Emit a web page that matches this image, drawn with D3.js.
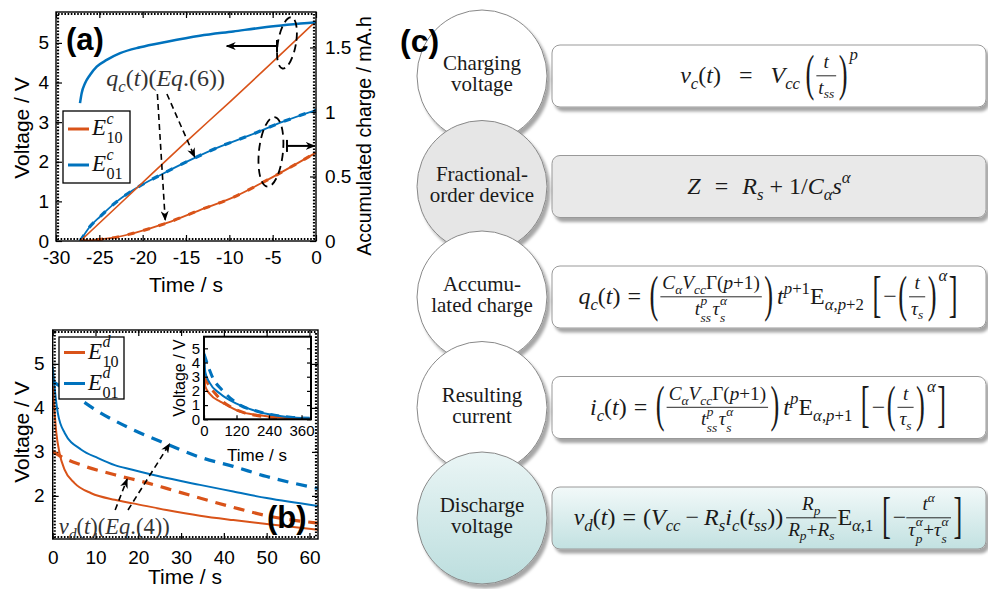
<!DOCTYPE html>
<html>
<head>
<meta charset="utf-8">
<script src="https://cdn.jsdelivr.net/npm/d3@7"></script>
<style>
  body { margin: 0; background: #fff; }
  svg { display: block; }
</style>
</head>
<body>
<svg id="fig" width="988" height="589"></svg>
<script>
const sans = "'Liberation Sans', Arial, sans-serif";
const serif = "'Liberation Serif', 'DejaVu Serif', serif";
const orange = "#D95319";
const blue = "#0072BD";

// ---- (a) charging: voltage (left axis, V) and accumulated charge (right axis, mA.h)
const tVc01 = [-27.23, -27.04, -26.65, -26.08, -25.3, -24.15, -22.6, -20.3, -17.2, -13.4, -9.54, -5.7, 0];
const vc01 = [3.48, 3.73, 3.98, 4.19, 4.40, 4.57, 4.74, 4.89, 5.03, 5.18, 5.29, 5.40, 5.52];
const tVc10 = [-27.2, -21.1, -14.9, -9.9, 0];
const vc10 = [0, 1.25, 2.52, 3.52, 5.55];
const tQ01 = [-27.2, -26.1, -24.9, -23, -21.1, -18, -14.9, -11.5, -7.6, -3.8, 0];
const q01 = [0, 0.11, 0.19, 0.305, 0.395, 0.51, 0.615, 0.72, 0.82, 0.925, 1.015];
const tQ10 = [-27.2, -24.9, -23, -21.1, -17.2, -13.4, -9.5, -5.7, 0];
const q10 = [0, 0.013, 0.03, 0.06, 0.14, 0.24, 0.34, 0.47, 0.685];
const xTicksA = [-30, -25, -20, -15, -10, -5, 0];
const yTicksA = [0, 1, 2, 3, 4, 5];
const qTicksA = [0, 0.5, 1, 1.5];

// ---- (b) discharge voltage, solid = measured, dashed = model
const tD01 = [0, 0.5, 1.2, 2.8, 6.7, 10.6, 14.5, 18.4, 24.6, 34.4, 42.2, 50, 62];
const vd01 = [4.94, 4.41, 3.88, 3.43, 3.05, 2.86, 2.70, 2.60, 2.45, 2.25, 2.10, 1.95, 1.77];
const tM01 = [0, 4.35, 10.6, 18.4, 26.6, 34.4, 42.2, 50, 62];
const vm01 = [4.60, 4.33, 3.92, 3.52, 3.18, 2.88, 2.67, 2.44, 2.17];
const tD10 = [0, 0.4, 0.85, 1.6, 2.8, 5.1, 9.0, 14.5, 18.8, 26.6, 34.4, 42.2, 50, 62];
const vd10 = [4.5, 3.95, 3.43, 2.97, 2.59, 2.29, 2.06, 1.91, 1.83, 1.68, 1.55, 1.45, 1.36, 1.23];
const tM10 = [0, 2, 6.7, 14.5, 22.3, 26.6, 34.4, 42.2, 50, 62];
const vm10 = [3.01, 2.89, 2.70, 2.48, 2.29, 2.17, 1.95, 1.74, 1.55, 1.38];
const xTicksB = [0, 10, 20, 30, 40, 50, 60];
const yTicksB = [2, 3, 4, 5];

// ---- (b) inset, full discharge
const tI01 = [0, 5, 20, 60, 120, 180, 240, 300, 360, 390];
const vI01 = [4.9, 3.3, 2.6, 1.8, 1.1, 0.65, 0.35, 0.18, 0.1, 0.08];
const tIm01 = [0, 20, 34, 60, 77, 133, 200, 256, 320, 390];
const vIm01 = [4.6, 3.5, 2.85, 2.2, 1.85, 1.0, 0.55, 0.3, 0.15, 0.08];
const tI10 = [0, 5, 22, 60, 71, 133, 200, 260, 330, 390];
const vI10 = [4.5, 2.3, 1.77, 1.25, 1.13, 0.54, 0.3, 0.15, 0.07, 0.04];
const tIm10 = [0, 22, 40, 62, 100, 150, 200, 260, 330, 390];
const vIm10 = [3.0, 2.3, 1.85, 1.38, 0.85, 0.45, 0.25, 0.12, 0.05, 0.03];
const xTicksI = [0, 120, 240, 360];
const yTicksI = [0, 1, 2, 3, 4, 5];

// ---- (c) model chain
const stageLabels = [["Charging", "voltage"], ["Fractional-", "order device"],
  ["Accumu-", "lated charge"], ["Resulting", "current"], ["Discharge", "voltage"]];

const pts = (ts, vs) => ts.map((t, i) => [t, vs[i]]);
const fmt = (d) => d3.format("~g")(d).replace("−", "-");

const svg = d3.select("#fig");
const defs = svg.append("defs");

defs.append("marker").attr("id", "ah")
  .attr("viewBox", "0 0 10 8").attr("refX", 9).attr("refY", 4)
  .attr("markerWidth", 10).attr("markerHeight", 8)
  .attr("markerUnits", "userSpaceOnUse").attr("orient", "auto")
  .append("path").attr("d", "M0,0 L10,4 L0,8 L3,4 z").attr("fill", "#000");

const sh = defs.append("filter").attr("id", "sh")
  .attr("x", "-20%").attr("y", "-20%").attr("width", "150%").attr("height", "150%");
sh.append("feDropShadow").attr("dx", 3).attr("dy", 4).attr("stdDeviation", 1.6)
  .attr("flood-color", "#000").attr("flood-opacity", 0.35);

const grad = (id, c0, c1) => {
  const g = defs.append("linearGradient").attr("id", id)
    .attr("x1", 0).attr("y1", 0).attr("x2", 0).attr("y2", 1);
  g.append("stop").attr("offset", "0%").attr("stop-color", c0);
  g.append("stop").attr("offset", "100%").attr("stop-color", c1);
};
grad("gCirc", "#eaf5f5", "#bcdede");
grad("gBox", "#f2f9f9", "#c2e1e1");

// ---------- small math typesetter (text runs, sub/sup, fractions, big delimiters)
const I = (s) => ({ s, i: true });
const R = (s) => ({ s });
const sb = (s, i = true) => ({ s, i, sub: true });
const sup = (s, i = true) => ({ s, i, sup: true });
const gap = (n) => ({ sp: n });

function math(g, items, x, y, fs) {
  items.forEach((it) => {
    if (it.sp != null) { x += it.sp; return; }
    if (it.frac) {
      const fz = fs * 0.8;
      const ng = g.append("g");
      const dg = g.append("g");
      const nw = math(ng, it.frac[0], 0, 0, fz);
      const dw = math(dg, it.frac[1], 0, 0, fz);
      const w = Math.max(nw, dw) + 4;
      const ax = y - fs * 0.3;
      ng.attr("transform", `translate(${x + (w - nw) / 2},${ax - fs * 0.31})`);
      dg.attr("transform", `translate(${x + (w - dw) / 2},${ax + fz * 0.93})`);
      g.append("line").attr("x1", x).attr("x2", x + w).attr("y1", ax).attr("y2", ax)
        .attr("stroke", "#111").attr("stroke-width", 0.9);
      x += w + 1;
      return;
    }
    if (it.big) {
      x += 1.5;
      const t = g.append("text").attr("y", fs * 0.27).attr("font-size", fs)
        .attr("font-weight", 300).text(it.big)
        .attr("transform", `translate(${x},${y - fs * 0.3}) scale(1.1,${it.h || 2.15})`);
      x += t.node().getComputedTextLength() * 1.1 + 2;
      return;
    }
    if (it.ss) {
      const e1 = math(g, it.ss[0], x + 0.5, y + fs * 0.36, fs * 0.7);
      const e2 = math(g, it.ss[1], x + 0.5, y - fs * 0.48, fs * 0.7);
      x = Math.max(e1, e2) + 0.5;
      return;
    }
    const small = it.sub || it.sup;
    const dy = it.dy != null ? it.dy * fs : it.sub ? fs * 0.25 : it.sup ? -fs * 0.42 : 0;
    const t = g.append("text").attr("x", x).attr("y", y + dy)
      .attr("font-size", small ? fs * 0.7 : fs)
      .attr("font-style", it.i ? "italic" : null).text(it.s);
    x += t.node().getComputedTextLength();
  });
  return x;
}

// ---------- shared plot helpers
const frame = (g, x0, x1, y0, y1, minor) => {
  if (minor) {
    g.append("rect").attr("x", x0 + 2).attr("y", y0 + 2)
      .attr("width", x1 - x0 - 4).attr("height", y1 - y0 - 4)
      .attr("fill", "none").attr("stroke", "#000").attr("stroke-width", 2.2)
      .attr("stroke-dasharray", "1.6,1.6");
  }
  g.append("rect").attr("x", x0).attr("y", y0)
    .attr("width", x1 - x0).attr("height", y1 - y0)
    .attr("fill", "none").attr("stroke", "#000").attr("stroke-width", minor ? 1.4 : 2);
};

const styleAxis = (sel, size) => {
  sel.select(".domain").remove();
  sel.selectAll(".tick line").attr("stroke", "#000").attr("stroke-width", 1.2);
  sel.selectAll(".tick text").attr("fill", "#000")
    .style("font-family", sans).style("font-size", size + "px");
};

const curve = (g, data, x, y, color, width, dash) => {
  g.append("path").datum(data)
    .attr("d", d3.line().x((d) => x(d[0])).y((d) => y(d[1])).curve(d3.curveMonotoneX))
    .attr("fill", "none").attr("stroke", color).attr("stroke-width", width)
    .attr("stroke-dasharray", dash || null).attr("stroke-linejoin", "round");
};

const dashArrow = (g, p0, p1) => {
  g.append("line").attr("x1", p0[0]).attr("y1", p0[1]).attr("x2", p1[0]).attr("y2", p1[1])
    .attr("stroke", "#000").attr("stroke-width", 1.6)
    .attr("stroke-dasharray", "6,4").attr("marker-end", "url(#ah)");
};

const legend = (g, x0, y0, w, h, rows, fs) => {
  g.append("rect").attr("x", x0).attr("y", y0).attr("width", w).attr("height", h)
    .attr("fill", "#fff").attr("stroke", "#000").attr("stroke-width", 1.3);
  rows.forEach((r, i) => {
    const yy = y0 + h * (i + 0.5) / rows.length;
    g.append("line").attr("x1", x0 + 5).attr("x2", x0 + 26).attr("y1", yy).attr("y2", yy)
      .attr("stroke", r.color).attr("stroke-width", 3);
    const tg = g.append("g").style("font-family", serif).attr("fill", "#111");
    math(tg, [I("E"), { ss: [[R(r.sub)], [I(r.sup)]] }], x0 + 29, yy + 6, fs);
  });
};

// ================= panel (a) =================
const ga = svg.append("g");
const xa = d3.scaleLinear().domain([-30, 0]).range([56, 316]);
const ya = d3.scaleLinear().domain([0, 5.78]).range([241, 12]);
const qa = d3.scaleLinear().domain([0, 1.775]).range([241, 12]);

ga.append("g").attr("transform", "translate(0,241)")
  .call(d3.axisBottom(xa).tickValues(xTicksA).tickFormat(fmt).tickSize(-6).tickPadding(10))
  .call((s) => styleAxis(s, 19));
ga.append("g").attr("transform", "translate(0,12)")
  .call(d3.axisTop(xa).tickValues(xTicksA).tickSize(-6).tickFormat(""))
  .call((s) => styleAxis(s, 19));
ga.append("g").attr("transform", "translate(56,0)")
  .call(d3.axisLeft(ya).tickValues(yTicksA).tickFormat(fmt).tickSize(-6).tickPadding(7))
  .call((s) => styleAxis(s, 19));
ga.append("g").attr("transform", "translate(316,0)")
  .call(d3.axisRight(qa).tickValues(qTicksA).tickFormat(fmt).tickSize(-6).tickPadding(9))
  .call((s) => styleAxis(s, 19));

defs.append("clipPath").attr("id", "clipA").append("rect")
  .attr("x", 56).attr("y", 12).attr("width", 260).attr("height", 229);
const ca = ga.append("g").attr("clip-path", "url(#clipA)");
curve(ca, pts(tQ10, q10), xa, qa, orange, 1.8);
curve(ca, pts(tQ10, q10), xa, qa, orange, 3, "7,9");
curve(ca, pts(tQ01, q01), xa, qa, blue, 1.8);
curve(ca, pts(tQ01, q01), xa, qa, blue, 3.2, "7,9");
curve(ca, pts(tVc10, vc10), xa, ya, orange, 1.6);
curve(ca, pts(tVc01, vc01), xa, ya, blue, 2.5);
frame(ga, 56, 316, 12, 241, true);

// annotations (a)
const annA = ga.append("g");
annA.append("ellipse").attr("cx", xa(-3.35)).attr("cy", ya(5.0)).attr("rx", 9).attr("ry", 26)
  .attr("transform", `rotate(10,${xa(-3.35)},${ya(5.0)})`)
  .attr("fill", "none").attr("stroke", "#000").attr("stroke-width", 1.8).attr("stroke-dasharray", "8,5");
annA.append("ellipse").attr("cx", xa(-5.2)).attr("cy", ya(2.25)).attr("rx", 12).attr("ry", 35)
  .attr("transform", `rotate(6,${xa(-5.2)},${ya(2.25)})`)
  .attr("fill", "none").attr("stroke", "#000").attr("stroke-width", 1.8).attr("stroke-dasharray", "8,5");
[[-4.5, -10.3, 4.92], [-3.35, -0.15, 2.4]].forEach(([a, b, v]) => {
  annA.append("line").attr("x1", xa(a)).attr("x2", xa(b)).attr("y1", ya(v)).attr("y2", ya(v))
    .attr("stroke", "#000").attr("stroke-width", 2).attr("marker-end", "url(#ah)");
  annA.append("line").attr("x1", xa(a)).attr("x2", xa(a)).attr("y1", ya(v) - 6).attr("y2", ya(v) + 6)
    .attr("stroke", "#000").attr("stroke-width", 2);
});
dashArrow(annA, [xa(-18.3), ya(3.71)], [xa(-17.4), ya(0.53)]);
dashArrow(annA, [xa(-17.2), ya(3.71)], [xa(-14.0), ya(2.12)]);
math(annA.append("g").style("font-family", serif).attr("fill", "#333"),
  [I("q"), sb("c"), R("("), I("t"), R(")"), R("("), I("E"), I("q"), R(".(6))")],
  xa(-24.2), ya(3.91), 24);
legend(ga, 63, 111, 67, 72, [{ color: orange, sub: "10", sup: "c" }, { color: blue, sub: "01", sup: "c" }], 23);
ga.append("text").attr("x", 66).attr("y", 50).text("(a)")
  .style("font-family", sans).style("font-weight", "bold").style("font-size", "31px");

ga.append("text").attr("x", 186).attr("y", 292).attr("text-anchor", "middle").text("Time / s")
  .style("font-family", sans).style("font-size", "21px");
ga.append("text").attr("transform", "translate(29,128) rotate(-90)").attr("text-anchor", "middle")
  .text("Voltage / V").style("font-family", sans).style("font-size", "21px");
ga.append("text").attr("transform", "translate(371,136) rotate(-90)").attr("text-anchor", "middle")
  .text("Accumulated charge / mA.h").style("font-family", sans).style("font-size", "19.5px");

// ================= panel (b) =================
const gb = svg.append("g");
const xb = d3.scaleLinear().domain([0, 62]).range([52.7, 318]);
const yb = d3.scaleLinear().domain([1.02, 5.77]).range([539, 330]);

gb.append("g").attr("transform", "translate(0,539)")
  .call(d3.axisBottom(xb).tickValues(xTicksB).tickFormat(fmt).tickSize(-6).tickPadding(12))
  .call((s) => styleAxis(s, 19));
gb.append("g").attr("transform", "translate(0,330)")
  .call(d3.axisTop(xb).tickValues(xTicksB).tickSize(-6).tickFormat(""))
  .call((s) => styleAxis(s, 19));
gb.append("g").attr("transform", "translate(52.7,0)")
  .call(d3.axisLeft(yb).tickValues(yTicksB).tickFormat(fmt).tickSize(-6).tickPadding(8))
  .call((s) => styleAxis(s, 19));
gb.append("g").attr("transform", "translate(318,0)")
  .call(d3.axisRight(yb).tickValues(yTicksB).tickSize(-6).tickFormat(""))
  .call((s) => styleAxis(s, 19));

defs.append("clipPath").attr("id", "clipB").append("rect")
  .attr("x", 52.7).attr("y", 330).attr("width", 265.3).attr("height", 209);
const cb = gb.append("g").attr("clip-path", "url(#clipB)");
curve(cb, pts(tM01, vm01), xb, yb, blue, 3.2, "11,8");
curve(cb, pts(tM10, vm10), xb, yb, orange, 3.2, "11,8");
curve(cb, pts(tD01, vd01), xb, yb, blue, 2);
curve(cb, pts(tD10, vd10), xb, yb, orange, 2);
frame(gb, 52.7, 318, 330, 539, true);

const annB = gb.append("g");
dashArrow(annB, [xb(14.6), yb(1.68)], [xb(17.4), yb(2.38)]);
dashArrow(annB, [xb(17.6), yb(1.68)], [xb(27.3), yb(3.18)]);
math(annB.append("g").style("font-family", serif).attr("fill", "#333"),
  [I("v"), sb("d"), R("("), I("t"), R(")"), R("("), I("E"), I("q"), R(".(4))")],
  xb(1.4), yb(1.13), 22.5);
legend(gb, 59, 337, 65, 62, [{ color: orange, sub: "10", sup: "d" }, { color: blue, sub: "01", sup: "d" }], 23);
gb.append("text").attr("x", 267).attr("y", 528).text("(b)")
  .style("font-family", sans).style("font-weight", "bold").style("font-size", "31px");

gb.append("text").attr("x", 185).attr("y", 584).attr("text-anchor", "middle").text("Time / s")
  .style("font-family", sans).style("font-size", "21px");
gb.append("text").attr("transform", "translate(29,432) rotate(-90)").attr("text-anchor", "middle")
  .text("Voltage / V").style("font-family", sans).style("font-size", "21px");

// inset
const xi = d3.scaleLinear().domain([0, 395]).range([204, 311]);
const yi = d3.scaleLinear().domain([0, 5.82]).range([419.3, 336.7]);
gb.append("rect").attr("x", 204).attr("y", 336.7).attr("width", 107).attr("height", 82.6).attr("fill", "#fff");
defs.append("clipPath").attr("id", "clipI").append("rect")
  .attr("x", 204).attr("y", 336.7).attr("width", 107).attr("height", 82.6);
const ci = gb.append("g").attr("clip-path", "url(#clipI)");
curve(ci, pts(tIm10, vIm10), xi, yi, orange, 3, "9,7");
curve(ci, pts(tIm01, vIm01), xi, yi, blue, 3, "9,7");
curve(ci, pts(tI10, vI10), xi, yi, orange, 2);
curve(ci, pts(tI01, vI01), xi, yi, blue, 2);
gb.append("g").attr("transform", "translate(0,419.3)")
  .call(d3.axisBottom(xi).tickValues(xTicksI).tickFormat(fmt).tickSize(-4).tickPadding(6))
  .call((s) => styleAxis(s, 15));
gb.append("g").attr("transform", "translate(204,0)")
  .call(d3.axisLeft(yi).tickValues(yTicksI).tickFormat(fmt).tickSize(-4).tickPadding(4))
  .call((s) => styleAxis(s, 15));
gb.append("g").attr("transform", "translate(311,0)")
  .call(d3.axisRight(yi).tickValues(yTicksI).tickSize(-4).tickFormat(""))
  .call((s) => styleAxis(s, 15));
frame(gb, 204, 311, 336.7, 419.3, false);
gb.append("text").attr("x", 257).attr("y", 461).attr("text-anchor", "middle").text("Time / s")
  .style("font-family", sans).style("font-size", "17px");
gb.append("text").attr("transform", "translate(185,378) rotate(-90)").attr("text-anchor", "middle")
  .text("Voltage / V").style("font-family", sans).style("font-size", "16px");

// ================= panel (c) =================
const gc = svg.append("g");
const rowY = d3.scalePoint().domain(d3.range(stageLabels.length)).range([76, 518]);
const circFill = ["#fff", "#e6e6e6", "#fff", "#fff", "url(#gCirc)"];
const boxFill = ["#fff", "#e9e9e9", "#fff", "#fff", "url(#gBox)"];

const fracC = { frac: [
  [I("C"), sb("α"), I("V"), sb("cc"), R("Γ("), I("p"), R("+1)")],
  [I("t"), { ss: [[I("ss")], [I("p")]] }, gap(1), I("τ"), { ss: [[I("s")], [I("α")]] }]] };
const tail = [gap(7), { big: "[" }, R("−"), { big: "(" }, { frac: [[I("t")], [I("τ"), sb("s")]] },
  { big: ")" }, { s: "α", i: true, sup: true, dy: -0.95 }, { big: "]" }];
const formulas = [
  [I("v"), sb("c"), R("("), I("t"), R(")"), gap(18), R("="), gap(18), I("V"), sb("cc"), gap(4),
    { big: "(" }, { frac: [[I("t")], [I("t"), sb("ss")]] }, { big: ")" }, { s: "p", i: true, sup: true, dy: -0.95 }],
  [I("Z"), gap(14), R("="), gap(14), I("R"), sb("s"), gap(6), R("+"), gap(6), R("1/"), I("C"), sb("α"),
    I("s"), sup("α")],
  [I("q"), sb("c"), R("("), I("t"), R(")"), gap(7), R("="), gap(7), { big: "(" }, fracC, { big: ")" }, gap(2),
    I("t"), sup("p"), sup("+1", false), R("E"), sb("α"), sb(",", false), sb("p"), sb("+2", false), ...tail],
  [I("i"), sb("c"), R("("), I("t"), R(")"), gap(7), R("="), gap(7), { big: "(" }, fracC, { big: ")" }, gap(2),
    I("t"), sup("p"), R("E"), sb("α"), sb(",", false), sb("p"), sb("+1", false), ...tail],
  [I("v"), sb("d"), R("("), I("t"), R(")"), gap(7), R("="), gap(7), R("("), I("V"), sb("cc"), gap(5), R("−"),
    gap(5), I("R"), sb("s"), I("i"), sb("c"), R("("), I("t"), sb("ss"), R("))"), gap(3),
    { frac: [[I("R"), sb("p")], [I("R"), sb("p"), R("+"), I("R"), sb("s")]] },
    R("E"), sb("α"), sb(",1", false), gap(7), { big: "[" }, R("−"),
    { frac: [[I("t"), sup("α")], [I("τ"), { ss: [[I("p")], [I("α")]] }, R("+"), I("τ"), { ss: [[I("s")], [I("α")]] }]] },
    { big: "]" }]
];

formulas.forEach((f, i) => {
  const cy = rowY(i);
  gc.append("rect").attr("x", 552).attr("y", cy - 31).attr("width", 434).attr("height", 62)
    .attr("rx", 8).attr("fill", boxFill[i]).attr("stroke", "#999").attr("stroke-width", 1)
    .attr("filter", "url(#sh)");
  const fg = gc.append("g").style("font-family", serif).attr("fill", "#1a1a1a");
  const w = math(fg, f, 0, 0, 24);
  fg.attr("transform", `translate(${769 - w / 2},${cy + 7})`);
});

stageLabels.forEach((lab, i) => {
  const cy = rowY(i);
  gc.append("ellipse").attr("cx", 482).attr("cy", cy).attr("rx", 65).attr("ry", 66)
    .attr("fill", circFill[i]).attr("stroke", "#888").attr("stroke-width", 1)
    .attr("filter", "url(#sh)");
  lab.forEach((line, k) => {
    gc.append("text").attr("x", 482).attr("y", cy - 6 + k * 21).attr("text-anchor", "middle")
      .text(line).style("font-family", serif).style("font-size", "21px").attr("fill", "#1a1a1a");
  });
});

gc.append("text").attr("x", 400).attr("y", 52).text("(c)")
  .style("font-family", sans).style("font-weight", "bold").style("font-size", "32px");
</script>
</body>
</html>
